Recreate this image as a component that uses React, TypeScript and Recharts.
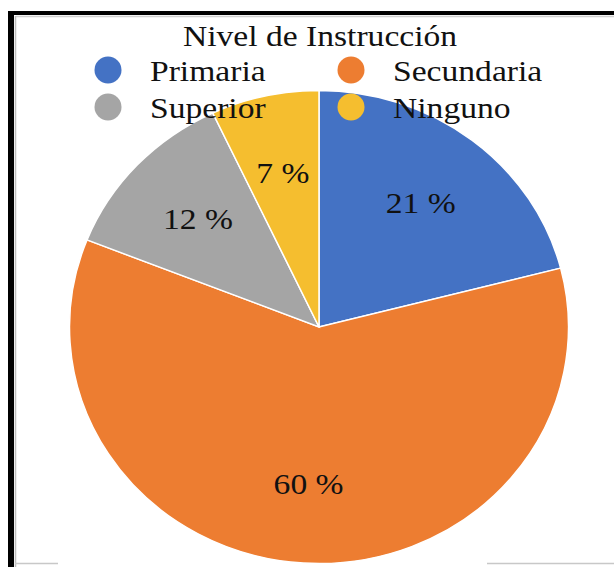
import React from 'react';
import { PieChart, Pie, Cell, Sector } from 'recharts';

const title = 'Nivel de Instrucción';
const categories = ['Primaria', 'Secundaria', 'Superior', 'Ninguno'];
const values = [21, 60, 12, 7];
const colors = ['#4472C4', '#ED7D31', '#A5A5A5', '#F5BE2F'];

const data = categories.map((name, i) => ({ name, value: values[i] }));

const W = 614;
const H = 567;
const CX = 319;
const CY = 327;
const R = 249.5;
const SY = 0.948; // vertical squash of the pie (reference is slightly elliptical)
const SX = 1.12; // horizontal stretch of the text
const FONT = '"Liberation Serif", "Times New Roman", serif';
const FS = 30;
const TEXT_COLOR = '#111';

const StretchText = ({ x, y, anchor = 'middle', children }: any) => (
  <text
    transform={`translate(${x} ${y}) scale(${SX} 1)`}
    textAnchor={anchor}
    fontFamily={FONT}
    fontSize={FS}
    fill={TEXT_COLOR}
  >
    {children}
  </text>
);

const EllipseSector = (props: any) => {
  const { cx, cy } = props;
  return (
    <g transform={`translate(${cx} ${cy}) scale(1 ${SY}) translate(${-cx} ${-cy})`}>
      <Sector {...props} />
    </g>
  );
};

const RADIAN = Math.PI / 180;
const renderLabel = (props: any) => {
  const { cx, cy, midAngle, outerRadius, value } = props;
  const r = outerRadius * 0.665;
  const x = cx + r * Math.cos(midAngle * RADIAN);
  const y = cy - r * Math.sin(midAngle * RADIAN) * SY;
  return <StretchText x={x} y={y + 10}>{`${value} %`}</StretchText>;
};

const legendCols = [108, 351];
const legendRows = [70, 107];

export default function App() {
  return (
    <div style={{ position: 'absolute', left: 0, top: 0, width: W, height: H, background: '#fff' }}>
      <PieChart width={W} height={H} margin={{ top: 0, right: 0, bottom: 0, left: 0 }}>
        <Pie
          data={data}
          dataKey="value"
          nameKey="name"
          cx={CX}
          cy={CY}
          outerRadius={R}
          innerRadius={0}
          startAngle={90}
          endAngle={-270}
          stroke="#ffffff"
          strokeWidth={1.5}
          shape={EllipseSector}
          label={renderLabel}
          labelLine={false}
          isAnimationActive={false}
        >
          {data.map((d, i) => (
            <Cell key={d.name} fill={colors[i]} />
          ))}
        </Pie>
      </PieChart>
      <svg
        width={W}
        height={H}
        style={{ position: 'absolute', left: 0, top: 0, pointerEvents: 'none' }}
      >
        {/* frame */}
        <rect x={8} y={11} width={W - 8} height={4} fill="#000" />
        <rect x={8} y={11} width={6} height={H - 11} fill="#000" />
        <line x1={16} y1={16.5} x2={W} y2={16.5} stroke="#cfcfcf" strokeWidth={1.5} />
        <line x1={15.5} y1={16} x2={15.5} y2={H} stroke="#bdbdbd" strokeWidth={1.5} />
        <line x1={15} y1={563.5} x2={58} y2={563.5} stroke="#c8c8c8" strokeWidth={1.5} />
        <line x1={487} y1={563.5} x2={W} y2={563.5} stroke="#c8c8c8" strokeWidth={1.5} />
        {/* title */}
        <StretchText x={320} y={46}>{title}</StretchText>
        {/* legend */}
        {categories.map((c, i) => {
          const cx = legendCols[i % 2];
          const cy = legendRows[Math.floor(i / 2)];
          return (
            <g key={c}>
              <circle cx={cx} cy={cy} r={13.5} fill={colors[i]} />
              <StretchText x={cx + 42} y={cy + 11} anchor="start">{c}</StretchText>
            </g>
          );
        })}
      </svg>
    </div>
  );
}
